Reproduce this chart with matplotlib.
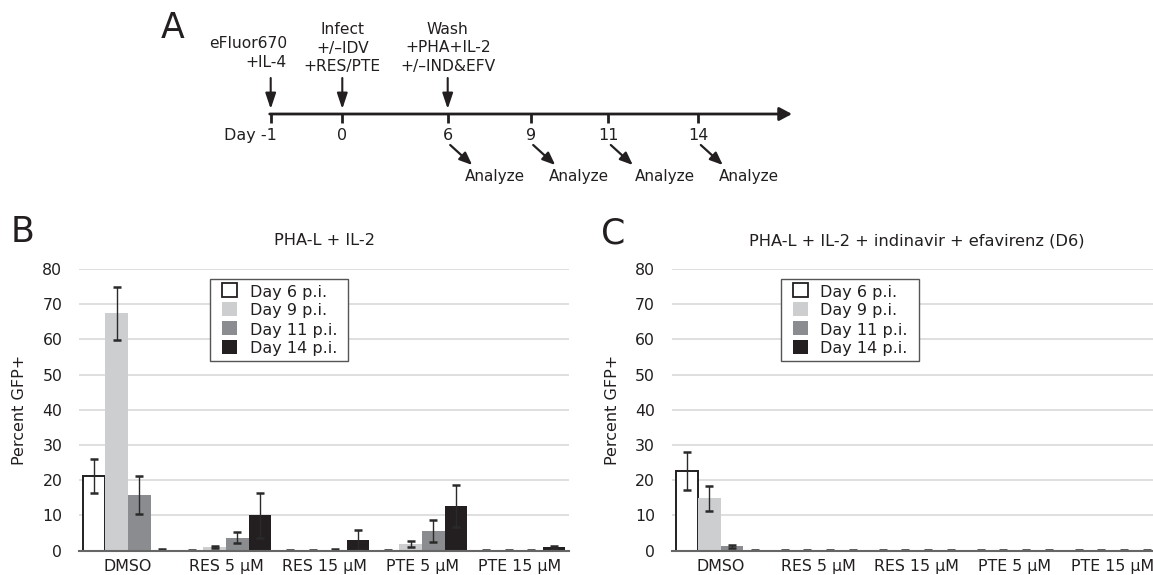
import matplotlib
matplotlib.use('Agg')
import matplotlib.pyplot as plt
import numpy as np
from matplotlib.patches import Rectangle

plt.rcParams['font.family'] = ['DejaVu Sans']

# ---------------- data ----------------
categories = ["DMSO", "RES 5 µM", "RES 15 µM", "PTE 5 µM", "PTE 15 µM"]
series_labels = ["Day 6 p.i.", "Day 9 p.i.", "Day 11 p.i.", "Day 14 p.i."]

# Panel B: PHA-L + IL-2
b_day6 = [21.1, 0.03, 0.03, 0.05, 0.03]
b_day9 = [67.4, 1.0, 0.05, 1.9, 0.05]
b_day11 = [15.8, 3.7, 0.15, 5.6, 0.05]
b_day14 = [0.05, 10.1, 3.0, 12.7, 1.0]
b_err6 = [4.85, 0.06, 0.06, 0.25, 0.05]
b_err9 = [7.5, 0.35, 0.06, 0.85, 0.05]
b_err11 = [5.5, 1.65, 0.4, 3.05, 0.06]
b_err14 = [0.3, 6.4, 2.9, 6.1, 0.45]

# Panel C: PHA-L + IL-2 + indinavir + efavirenz (D6)
c_day6 = [22.7, 0.03, 0.03, 0.05, 0.03]
c_day9 = [14.9, 0.05, 0.05, 0.05, 0.03]
c_day11 = [1.3, 0.03, 0.03, 0.05, 0.03]
c_day14 = [0.05, 0.03, 0.03, 0.03, 0.03]
c_err6 = [5.35, 0.05, 0.05, 0.25, 0.05]
c_err9 = [3.6, 0.2, 0.2, 0.25, 0.05]
c_err11 = [0.45, 0.05, 0.05, 0.1, 0.05]
c_err14 = [0.05, 0.05, 0.05, 0.05, 0.05]

yticks = [0, 10, 20, 30, 40, 50, 60, 70, 80]

# Timeline (panel A)
timeline_days = ["Day -1", "0", "6", "9", "11", "14"]
event_labels = [["eFluor670", "+IL-4"],
                ["Infect", "+/\u2013IDV", "+RES/PTE"],
                ["Wash", "+PHA+IL-2", "+/\u2013IND&EFV"]]
analyze_label = "Analyze"

# ---------------- layout (pixels) ----------------
W, H = 1153, 575
tl_x = [270.7, 342.3, 447.7, 530.7, 608.3, 698.3]
tl_end = 792
tl_y = 114
ink = '#231f20'

fills = ['white', '#cdced0', '#8b8c8f', '#231f20']
edges = ['#231f20', '#cdced0', '#8b8c8f', '#231f20']
lws = [1.4, 0, 0, 0]

fig = plt.figure(figsize=(W / 100, H / 100), dpi=100)
ov = fig.add_axes([0, 0, 1, 1])
ov.set_xlim(0, W)
ov.set_ylim(H, 0)
ov.axis('off')
ov.set_zorder(10)
ov.patch.set_visible(False)

# ---- panel A timeline ----
ov.annotate('', xy=(tl_end, tl_y), xytext=(tl_x[0] - 1, tl_y),
            arrowprops=dict(arrowstyle='-|>,head_length=0.75,head_width=0.4',
                            lw=2.0, color=ink, shrinkA=0, shrinkB=0,
                            mutation_scale=10))
for i, d in enumerate(timeline_days):
    ov.plot([tl_x[i], tl_x[i]], [tl_y, tl_y + 9], color=ink, lw=2.0,
            solid_capstyle='butt')
    if i == 0:
        ov.text(tl_x[i] + 6, 140, d, ha='right', va='baseline', fontsize=11.5, color=ink)
    else:
        ov.text(tl_x[i], 140, d, ha='center', va='baseline', fontsize=11.5, color=ink)

for i in range(3):
    ov.annotate('', xy=(tl_x[i], tl_y - 5), xytext=(tl_x[i], 78),
                arrowprops=dict(arrowstyle='-|>,head_length=0.9,head_width=0.3',
                                lw=1.5, color=ink, shrinkA=0, shrinkB=0,
                                mutation_scale=10.5))
ov.text(287, 48, event_labels[0][0], ha='right', va='baseline', fontsize=11.2, color=ink)
ov.text(287, 67, event_labels[0][1], ha='right', va='baseline', fontsize=11.2, color=ink)
for k, lab in enumerate(event_labels[1]):
    ov.text(tl_x[1], 33.5 + 19 * k, lab, ha='center', va='baseline', fontsize=11.2, color=ink)
for k, lab in enumerate(event_labels[2]):
    ov.text(tl_x[2], 33.5 + 19 * k, lab, ha='center', va='baseline', fontsize=11.2, color=ink)

analyze_text_x = [465, 549, 635, 719]
for j, idx in enumerate([2, 3, 4, 5]):
    x0 = tl_x[idx] + 2.5
    ov.annotate('', xy=(x0 + 22, 165), xytext=(x0, 145),
                arrowprops=dict(arrowstyle='-|>,head_length=0.85,head_width=0.35',
                                lw=1.6, color=ink, shrinkA=0, shrinkB=0,
                                mutation_scale=9))
    ov.text(analyze_text_x[j], 181.5, analyze_label, ha='left', va='baseline',
            fontsize=11, color=ink)

ov.text(173, 28, "A", ha='center', va='center', fontsize=25, color=ink)
ov.text(23, 232, "B", ha='center', va='center', fontsize=25, color=ink)
ov.text(613, 233, "C", ha='center', va='center', fontsize=25, color=ink)


def draw_legend(left):
    top, bottom, width = 279.3, 361.3, 138
    ov.add_patch(Rectangle((left, top), width, bottom - top, facecolor='white',
                           edgecolor='#555555', lw=1.0, zorder=5))
    for i, lab in enumerate(series_labels):
        cy = 290 + 19 * i
        ov.add_patch(Rectangle((left + 12, cy - 7), 15, 14, facecolor=fills[i],
                               edgecolor=edges[i] if i == 0 else 'none',
                               lw=1.3 if i == 0 else 0, zorder=6))
        ov.text(left + 39.5, cy + 6.5, lab, ha='left', va='baseline',
                fontsize=11.5, color=ink, zorder=7)


def draw_panel(left_px, means, errs, title):
    ax = fig.add_axes([left_px / W, (H - 550.7) / H, 490 / W, 281.7 / H])
    x = np.arange(len(categories))
    w = 0.23
    offsets = (np.arange(4) - 1.5) * w
    for i in range(4):
        ax.bar(x + offsets[i], means[i], width=w, color=fills[i],
               edgecolor=edges[i], linewidth=lws[i], zorder=2)
        ax.errorbar(x + offsets[i], means[i], yerr=errs[i], fmt='none',
                    ecolor='#2a2a2a', elinewidth=1.0, capsize=3.0,
                    capthick=1.8, zorder=3)
    ax.set_xlim(-0.5, len(categories) - 0.5)
    ax.set_ylim(0, 80)
    ax.set_yticks(yticks)
    ax.set_xticks(x)
    ax.set_xticklabels(categories, fontsize=11.4, color=ink)
    ax.tick_params(axis='y', length=0, pad=12, labelsize=11.3, labelcolor=ink)
    ax.tick_params(axis='x', length=0, pad=6)
    ax.yaxis.grid(True, color='#d9d9d9', lw=1.2)
    ax.set_axisbelow(True)
    for s in ['left', 'top', 'right']:
        ax.spines[s].set_visible(False)
    ax.spines['bottom'].set_color('#666666')
    ax.spines['bottom'].set_linewidth(1.5)
    ax.spines['bottom'].set_zorder(4)
    ax.set_ylabel("Percent GFP+", fontsize=11.5, color=ink)
    ax.yaxis.set_label_coords(-0.106, 0.5)
    ax.text(0.5, 1.0994, title, transform=ax.transAxes, ha='center',
            va='center', fontsize=11.7, color=ink)
    return ax


draw_panel(79, [b_day6, b_day9, b_day11, b_day14],
           [b_err6, b_err9, b_err11, b_err14], "PHA-L + IL-2")
draw_panel(671.7, [c_day6, c_day9, c_day11, c_day14],
           [c_err6, c_err9, c_err11, c_err14],
           "PHA-L + IL-2 + indinavir + efavirenz (D6)")
draw_legend(210)
draw_legend(781)

fig.savefig('out.png', dpi=100)
